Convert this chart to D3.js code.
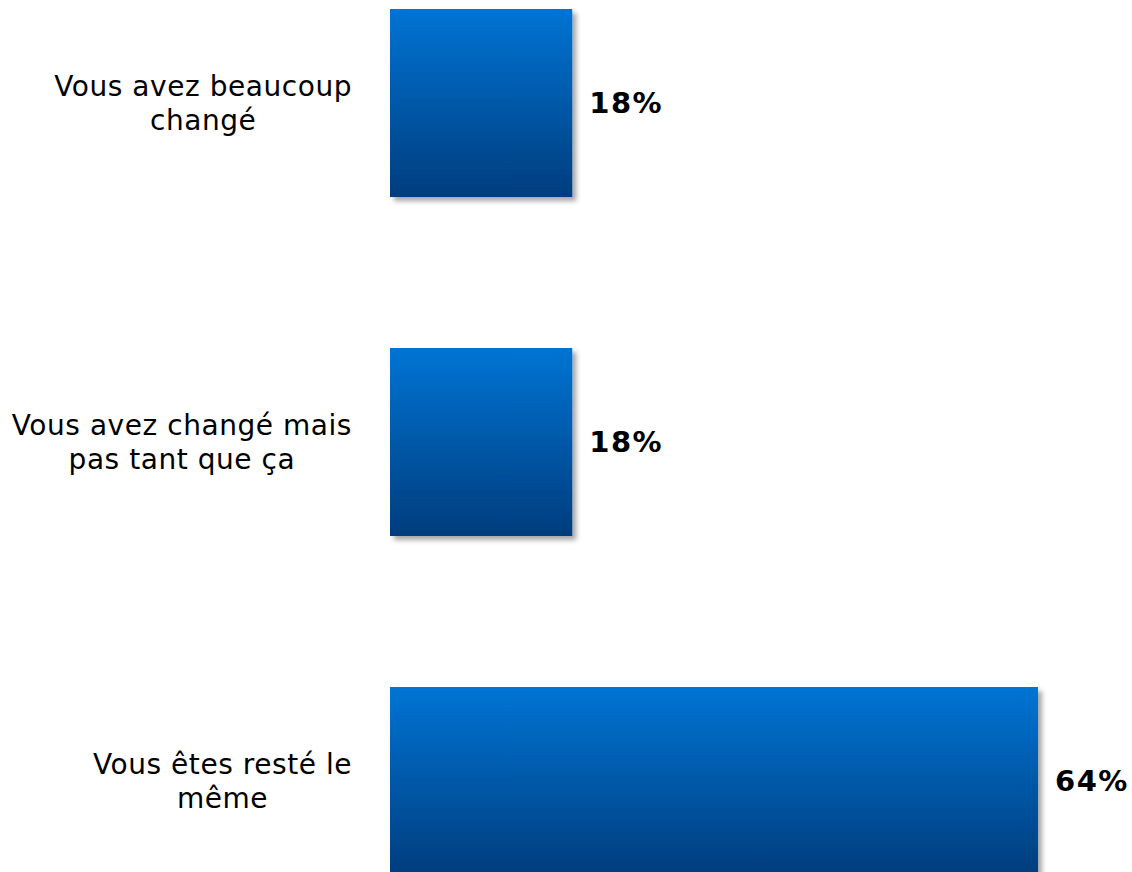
<!DOCTYPE html>
<html>
<head>
<meta charset="utf-8">
<script src="https://cdn.jsdelivr.net/npm/d3@7"></script>
<style>
  html, body { margin: 0; padding: 0; background: #ffffff; }
  svg { display: block; }
</style>
</head>
<body>
<svg id="chart" width="1132" height="872"></svg>
<script>
const categories = [
  ["Vous avez beaucoup", "changé"],
  ["Vous avez changé mais", "pas tant que ça"],
  ["Vous êtes resté le", "même"]
];
const categoryKeys = ["beaucoup", "pas tant", "même"];
const values = [18, 18, 64];
const valueLabels = ["18%", "18%", "64%"];

const svg = d3.select("#chart");

const x = d3.scaleLinear().domain([0, 100]).range([390, 390 + 1012.5]);
const y = d3.scaleBand()
  .domain(categoryKeys)
  .range([-66.5, 950.5])
  .paddingInner(151 / 339)
  .paddingOuter(151 / 339 / 2);

const defs = svg.append("defs");
const grad = defs.append("linearGradient")
  .attr("id", "barGrad").attr("x1", 0).attr("y1", 0).attr("x2", 0).attr("y2", 1);
grad.append("stop").attr("offset", "0%").attr("stop-color", "#0074d4");
grad.append("stop").attr("offset", "100%").attr("stop-color", "#003d7d");

const f = defs.append("filter").attr("id", "shadow")
  .attr("x", "-10%").attr("y", "-10%").attr("width", "130%").attr("height", "130%");
f.append("feDropShadow").attr("dx", 4).attr("dy", 4).attr("stdDeviation", 2.5)
  .attr("flood-color", "#000").attr("flood-opacity", 0.35);

const data = categoryKeys.map((k, i) => ({ key: k, lines: categories[i], value: values[i], label: valueLabels[i] }));

svg.append("g").selectAll("rect").data(data).join("rect")
  .attr("x", x(0))
  .attr("y", d => y(d.key))
  .attr("width", d => x(d.value) - x(0))
  .attr("height", y.bandwidth())
  .attr("fill", "url(#barGrad)")
  .attr("filter", "url(#shadow)");

svg.append("g").selectAll("text").data(data).join("text")
  .attr("x", d => x(d.value) + 17)
  .attr("y", d => y(d.key) + y.bandwidth() / 2)
  .attr("dy", "0.36em")
  .attr("font-family", "DejaVu Sans, Verdana, sans-serif")
  .attr("font-weight", "bold")
  .attr("font-size", 29)
  .attr("letter-spacing", 1.5)
  .attr("fill", "#000")
  .text(d => d.label);

const catFont = 28;
const labelRight = 352;
const lineGap = 34;
const cats = svg.append("g");
data.forEach(d => {
  const g = cats.append("g");
  const cy = y(d.key) + y.bandwidth() / 2;
  const texts = d.lines.map((line, j) => g.append("text")
    .attr("y", cy + (j - (d.lines.length - 1) / 2) * lineGap)
    .attr("dy", "0.36em")
    .attr("font-family", "DejaVu Sans, Verdana, sans-serif")
    .attr("font-size", catFont)
    .attr("letter-spacing", 0.55)
    .attr("fill", "#000")
    .attr("text-anchor", "middle")
    .text(line));
  const maxW = d3.max(texts, t => t.node().getComputedTextLength());
  texts.forEach(t => t.attr("x", labelRight - maxW / 2));
});
</script>
</body>
</html>
